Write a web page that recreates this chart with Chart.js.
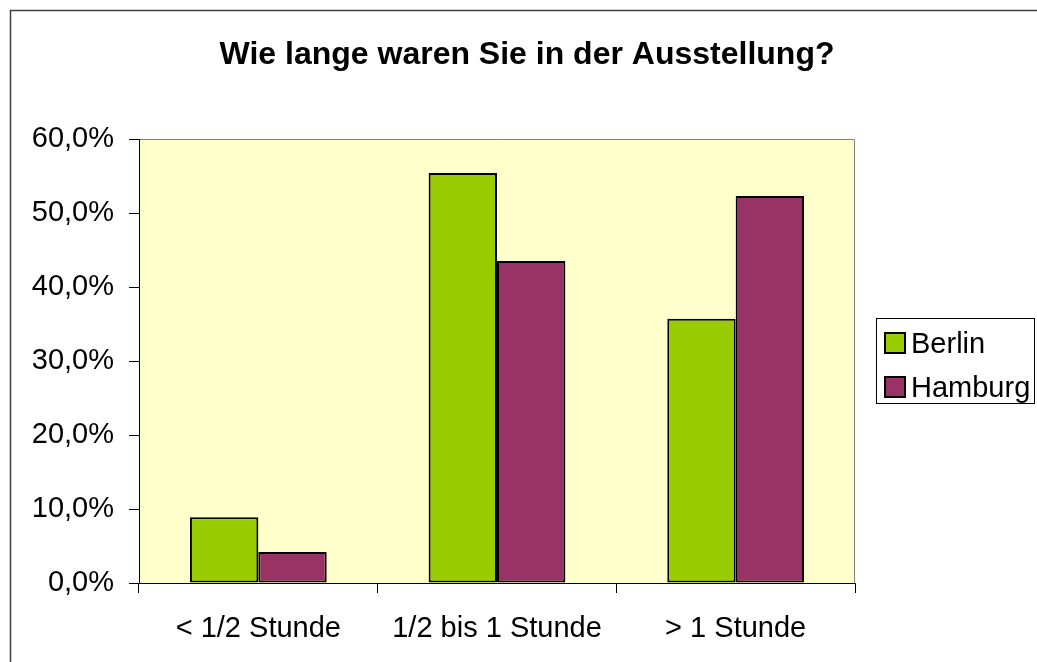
<!DOCTYPE html>
<html>
<head>
<meta charset="utf-8">
<script src="https://cdn.jsdelivr.net/npm/chart.js@4.4.1/dist/chart.umd.min.js"></script>
<style>
    html, body { margin: 0; padding: 0; background: #fff; }
    #wrap { width: 1037px; height: 662px; position: relative; }
</style>
</head>
<body>
<div id="wrap"><canvas id="chart"></canvas></div>
<script>
// data
const categories = ['< 1/2 Stunde', '1/2 bis 1 Stunde', '> 1 Stunde'];
const berlin = [8.9, 55.4, 35.7];
const hamburg = [4.2, 43.5, 52.3];
const seriesNames = ['Berlin', 'Hamburg'];
const seriesColors = ['#99CC00', '#993366'];
const titleText = 'Wie lange waren Sie in der Ausstellung?';

const FONT = '"Liberation Sans", Arial, sans-serif';

// frame, plot background, title and legend
const decorPlugin = {
    id: 'decor',
    beforeDraw(chart) {
        const ctx = chart.ctx;
        const a = chart.chartArea;
        ctx.save();
        ctx.strokeStyle = '#404040';
        ctx.lineWidth = 1.5;
        ctx.strokeRect(10.5, 10.5, 1200, 1200);
        ctx.fillStyle = '#FFFFCC';
        ctx.fillRect(a.left, a.top, a.right - a.left, a.bottom - a.top);
        ctx.strokeStyle = '#808080';
        ctx.lineWidth = 1;
        ctx.beginPath();
        ctx.moveTo(a.left, a.top + 0.5);
        ctx.lineTo(a.right - 0.5, a.top + 0.5);
        ctx.lineTo(a.right - 0.5, a.bottom);
        ctx.stroke();
        ctx.restore();
    },
    afterDraw(chart) {
        const ctx = chart.ctx;
        ctx.save();
        // title
        ctx.fillStyle = '#000';
        ctx.font = 'bold 32px ' + FONT;
        ctx.textAlign = 'center';
        ctx.textBaseline = 'alphabetic';
        ctx.fillText(titleText, 527, 64);

        // legend
        ctx.strokeStyle = '#000';
        ctx.lineWidth = 1;
        ctx.strokeRect(876.5, 318.5, 158, 85);
        ctx.font = '29px ' + FONT;
        ctx.textAlign = 'left';
        chart.data.datasets.forEach((ds, i) => {
            const base = 353 + i * 44;
            ctx.fillStyle = ds.backgroundColor;
            ctx.fillRect(885, base - 20, 20, 20);
            ctx.lineWidth = 2;
            ctx.strokeRect(885, base - 20, 20, 20);
            ctx.fillStyle = '#000';
            ctx.fillText(ds.label, 911, base);
        });
        ctx.restore();
    }
};

const datasets = [berlin, hamburg].map((values, i) => ({
    label: seriesNames[i],
    data: values,
    backgroundColor: seriesColors[i],
    borderColor: '#000',
    borderWidth: 2,
    borderSkipped: false,
    categoryPercentage: 0.573,
    barPercentage: 1
}));

new Chart(document.getElementById('chart'), {
    type: 'bar',
    data: {
        labels: categories,
        datasets: datasets
    },
    options: {
        responsive: true,
        maintainAspectRatio: false,
        animation: false,
        layout: {
            padding: { top: 139, right: 182, left: 0, bottom: 0 }
        },
        plugins: {
            legend: { display: false },
            title: { display: false },
            tooltip: { enabled: false }
        },
        scales: {
            x: {
                afterFit: (scale) => { scale.height = 79; },
                grid: {
                    offset: true,
                    drawOnChartArea: false,
                    drawTicks: true,
                    tickLength: 10,
                    color: '#000'
                },
                border: { display: true, color: '#000', width: 1 },
                ticks: {
                    color: '#000',
                    padding: 19,
                    maxRotation: 0,
                    font: { family: FONT, size: 29 }
                }
            },
            y: {
                min: 0,
                max: 60,
                afterFit: (scale) => { scale.width = 139; },
                grid: {
                    drawOnChartArea: false,
                    drawTicks: true,
                    tickLength: 10,
                    color: '#000'
                },
                border: { display: true, color: '#000', width: 1 },
                ticks: {
                    stepSize: 10,
                    color: '#000',
                    padding: 15,
                    font: { family: FONT, size: 29 },
                    callback: function(value) {
                        return value.toFixed(1).replace('.', ',') + '%';
                    }
                }
            }
        }
    },
    plugins: [decorPlugin]
});
</script>
</body>
</html>
